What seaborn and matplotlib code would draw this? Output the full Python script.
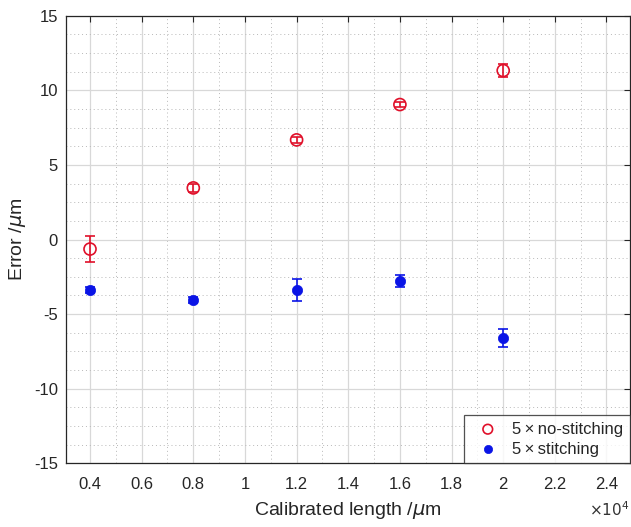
import numpy as np
import pandas as pd
import matplotlib
matplotlib.use('Agg')
import matplotlib.pyplot as plt
import seaborn as sns
from matplotlib.ticker import MultipleLocator, FuncFormatter

# values
lengths = [4000, 8000, 12000, 16000, 20000]
err_nostitch = [-0.64, 3.46, 6.68, 9.05, 11.33]
sd_nostitch = [0.85, 0.25, 0.2, 0.15, 0.45]
err_stitch = [-3.37, -4.06, -3.39, -2.78, -6.61]
sd_stitch = [0.2, 0.2, 0.75, 0.4, 0.6]

lab_nos = '5\u2009\u00d7\u2009no-stitching'
lab_sti = '5\u2009\u00d7\u2009stitching'

df = pd.DataFrame({
    'length': lengths * 2,
    'error': err_nostitch + err_stitch,
    'sd': sd_nostitch + sd_stitch,
    'group': [lab_nos] * 5 + [lab_sti] * 5,
})

sns.set_style('white')
plt.rcParams['font.family'] = ['Liberation Sans', 'DejaVu Sans']

fig = plt.figure(figsize=(6.31, 5.27), dpi=100)
ax = fig.add_axes([0.105, 0.121, 0.893, 0.849])

nos = df[df['group'] == lab_nos]
sti = df[df['group'] == lab_sti]

# error bars
ax.errorbar(nos['length'], nos['error'], yerr=nos['sd'], fmt='none',
            ecolor='#e0102a', elinewidth=1.2, capsize=3.5, capthick=1.2, zorder=3)
ax.errorbar(sti['length'], sti['error'], yerr=sti['sd'], fmt='none',
            ecolor='#0a14e6', elinewidth=1.2, capsize=3.5, capthick=1.2, zorder=3)

# markers
sns.scatterplot(data=nos, x='length', y='error', ax=ax, marker='o', s=75,
                facecolor='none', edgecolor='#e0102a', linewidth=1.2,
                label=lab_nos, zorder=4)
sns.scatterplot(data=sti, x='length', y='error', ax=ax, marker='o', s=55,
                color='#0a14e6', edgecolor='#0a14e6', linewidth=0.5,
                label=lab_sti, zorder=4)

ax.set_xlim(3080, 24900)
ax.set_ylim(-15, 15)
ax.xaxis.set_major_locator(MultipleLocator(2000))
ax.xaxis.set_minor_locator(MultipleLocator(1000))
ax.yaxis.set_major_locator(MultipleLocator(5))
ax.yaxis.set_minor_locator(MultipleLocator(1.25))

ax.xaxis.set_major_formatter(FuncFormatter(lambda v, p: '%g' % round(v / 1e4, 3)))
ax.yaxis.set_major_formatter(FuncFormatter(lambda v, p: '%g' % v))
ax.text(1.0, -0.125, r'$\times10^4$', transform=ax.transAxes, ha='right',
        va='bottom', fontsize=11, color='#333333')

ax.grid(which='major', color='#d8d8d8', linewidth=0.9, linestyle='-')
ax.grid(which='minor', color='#b8b8b8', linewidth=0.7, linestyle=(0, (1, 3)))
ax.set_axisbelow(True)

ax.tick_params(which='major', direction='in', length=4, width=0.8,
               top=True, right=True, labelsize=12, colors='#262626')
ax.tick_params(axis='x', which='major', pad=10)
ax.tick_params(axis='y', which='major', pad=6)
ax.tick_params(which='minor', length=0)
for s in ax.spines.values():
    s.set_color('#262626')
    s.set_linewidth(0.9)

ax.set_xlabel('Calibrated length /$\\mu$m', fontsize=14, color='#262626', labelpad=6)
ax.set_ylabel('Error /$\\mu$m', fontsize=14, color='#262626')

leg = ax.legend(loc='lower right', fontsize=12, frameon=True, fancybox=False,
                edgecolor='#262626', borderaxespad=0, handletextpad=0.45,
                handlelength=2.0, borderpad=0.4, labelspacing=0.3, markerscale=0.8)
leg.get_frame().set_linewidth(0.9)

fig.savefig('out.png', dpi=100)
